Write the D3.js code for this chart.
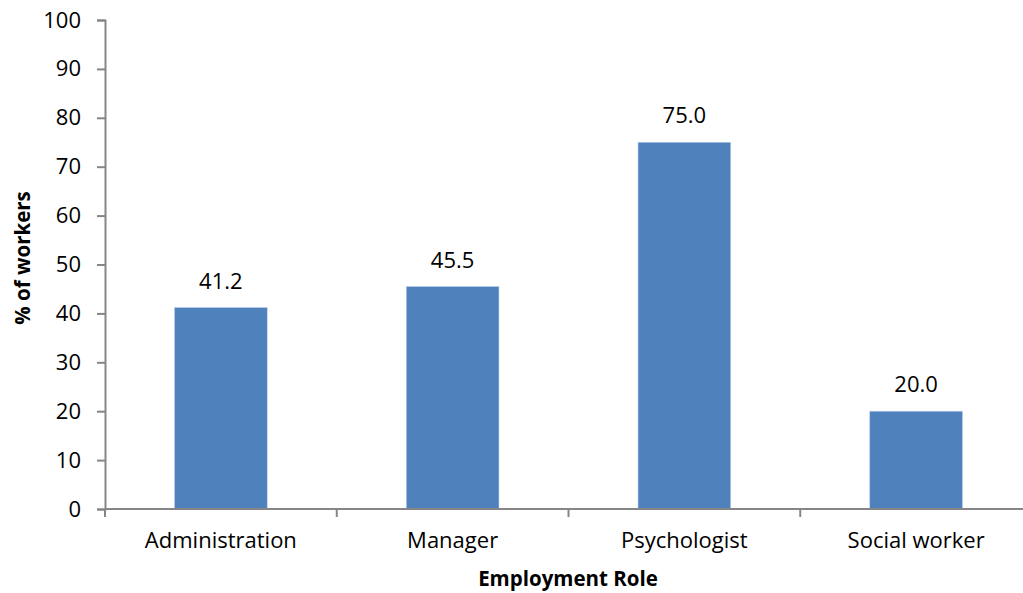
<!DOCTYPE html>
<html>
<head>
<meta charset="utf-8">
<script src="https://cdn.jsdelivr.net/npm/d3@7"></script>
<style>
  html, body { margin: 0; padding: 0; background: #fff; }
  svg { display: block; font-family: "Open Sans", "Lato", sans-serif; }
</style>
</head>
<body>
<svg id="chart" width="1023" height="593"></svg>
<script>
// Share of workers by employment role
const categories = ["Administration", "Manager", "Psychologist", "Social worker"];
const values = [41.2, 45.5, 75.0, 20.0];
const yTicks = [0, 10, 20, 30, 40, 50, 60, 70, 80, 90, 100];

const fontFamily = "'Open Sans', Lato, sans-serif";
const labelSize = 22;
const titleSize = 20.5;
const svg = d3.select("#chart");
const margin = { left: 105, top: 20, bottom: 509 };
const plotRight = 1032;

const x = d3.scaleBand()
  .domain(categories)
  .range([margin.left, plotRight])
  .paddingInner(0.6)
  .paddingOuter(0.3);

const y = d3.scaleLinear()
  .domain([0, 100])
  .range([margin.bottom, margin.top]);

const axisColor = "#868686";

// bars
svg.append("g").selectAll("rect")
  .data(values)
  .join("rect")
  .attr("x", (d, i) => x(categories[i]))
  .attr("y", d => y(d))
  .attr("width", x.bandwidth())
  .attr("height", d => y(0) - y(d))
  .attr("fill", "#4F81BD")
  .attr("stroke", "#BCD0E8")
  .attr("stroke-width", 0.6);

// value labels
svg.append("g").selectAll("text")
  .data(values)
  .join("text")
  .attr("x", (d, i) => x(categories[i]) + x.bandwidth() / 2)
  .attr("y", d => y(d) - 19)
  .attr("text-anchor", "middle")
  .attr("font-size", labelSize)
  .attr("fill", "#000")
  .text(d => d.toFixed(1));

// y axis
const yAxis = d3.axisLeft(y).tickValues(yTicks).tickSize(8).tickPadding(16);
const gy = svg.append("g")
  .attr("transform", `translate(${margin.left},0)`)
  .call(yAxis);
gy.select(".domain").attr("stroke", axisColor).attr("stroke-width", 2);
gy.selectAll(".tick line").attr("stroke", axisColor).attr("stroke-width", 2);
gy.selectAll(".tick text")
  .attr("font-size", labelSize)
  .attr("font-family", fontFamily)
  .attr("fill", "#000");

// x axis: tick marks on the category boundaries
const step = x.step();
const boundaries = d3.range(categories.length + 1).map(i => margin.left + i * step);
svg.append("line")
  .attr("x1", margin.left).attr("x2", plotRight)
  .attr("y1", y(0)).attr("y2", y(0))
  .attr("stroke", axisColor).attr("stroke-width", 2);
svg.append("g").selectAll("line")
  .data(boundaries)
  .join("line")
  .attr("x1", d => d).attr("x2", d => d)
  .attr("y1", y(0)).attr("y2", y(0) + 8)
  .attr("stroke", axisColor).attr("stroke-width", 2);

// category labels
svg.append("g").selectAll("text")
  .data(categories)
  .join("text")
  .attr("x", d => x(d) + x.bandwidth() / 2)
  .attr("y", 548)
  .attr("text-anchor", "middle")
  .attr("font-size", labelSize)
  .attr("fill", "#000")
  .text(d => d);

// axis titles
svg.append("text")
  .attr("x", 568)
  .attr("y", 586)
  .attr("text-anchor", "middle")
  .attr("font-size", titleSize)
  .attr("font-weight", "bold")
  .text("Employment Role");

svg.append("text")
  .attr("transform", `translate(30,258) rotate(-90)`)
  .attr("text-anchor", "middle")
  .attr("font-size", titleSize)
  .attr("font-weight", "bold")
  .text("% of workers");
</script>
</body>
</html>
